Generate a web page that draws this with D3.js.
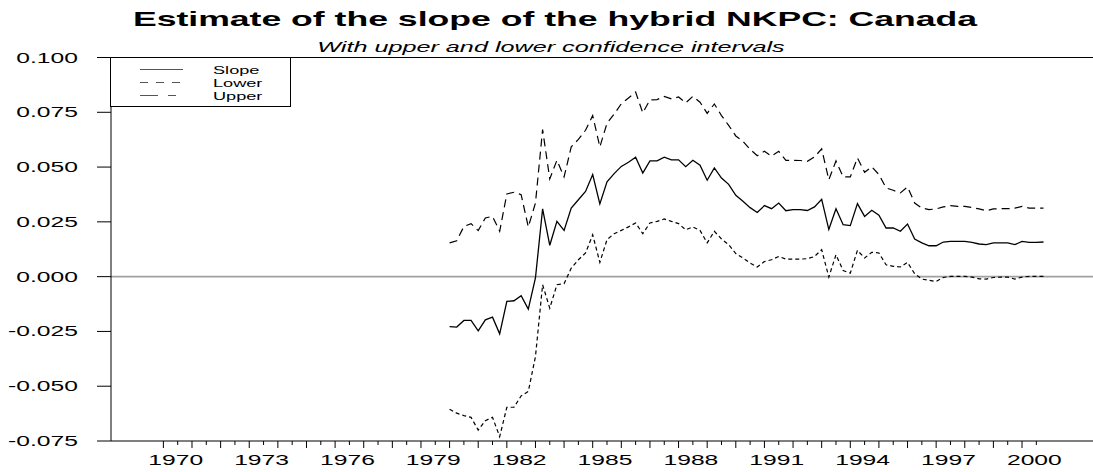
<!DOCTYPE html>
<meta charset="utf-8">
<style>
body { margin: 0; background: #fff; }
svg { display: block; font-family: "Liberation Sans", Arial, sans-serif; }
</style>
<svg width="1093" height="472"></svg>
<script src="https://cdn.jsdelivr.net/npm/d3@7"></script>
<script>

// quarterly estimates, 1980Q1 - 2000Q4
var startYear = 1980, perYear = 4;

var slope = [-0.0228, -0.0230, -0.0200, -0.0200, -0.0247, -0.0197, -0.0185, -0.0261, -0.0113, -0.0110,
  -0.0087, -0.0148, -0.0006, 0.0309, 0.0143, 0.0252, 0.0211, 0.0313, 0.0351, 0.0389,
  0.0466, 0.0332, 0.0433, 0.0470, 0.0503, 0.0522, 0.0545, 0.0473, 0.0528, 0.0528,
  0.0545, 0.0533, 0.0533, 0.0502, 0.0531, 0.0509, 0.0440, 0.0496, 0.0450, 0.0421,
  0.0371, 0.0344, 0.0315, 0.0293, 0.0324, 0.0310, 0.0336, 0.0301, 0.0306, 0.0306,
  0.0302, 0.0318, 0.0353, 0.0215, 0.0310, 0.0237, 0.0233, 0.0333, 0.0275, 0.0303,
  0.0280, 0.0222, 0.0222, 0.0207, 0.0240, 0.0172, 0.0154, 0.0141, 0.0141, 0.0158,
  0.0161, 0.0161, 0.0161, 0.0156, 0.0149, 0.0146, 0.0154, 0.0154, 0.0154, 0.0146,
  0.0161, 0.0156, 0.0156, 0.0158];

var lower = [-0.0605, -0.0623, -0.0634, -0.0642, -0.0700, -0.0657, -0.0642, -0.0730, -0.0596, -0.0596,
  -0.0544, -0.0524, -0.0365, -0.0037, -0.0144, -0.0037, -0.0032, 0.0039, 0.0077, 0.0108,
  0.0191, 0.0065, 0.0169, 0.0196, 0.0211, 0.0227, 0.0245, 0.0196, 0.0245, 0.0252,
  0.0263, 0.0252, 0.0242, 0.0214, 0.0227, 0.0211, 0.0154, 0.0207, 0.0172, 0.0146,
  0.0105, 0.0085, 0.0062, 0.0044, 0.0069, 0.0077, 0.0092, 0.0080, 0.0080, 0.0080,
  0.0082, 0.0092, 0.0123, -0.0002, 0.0100, 0.0028, 0.0016, 0.0120, 0.0085, 0.0111,
  0.0108, 0.0054, 0.0047, 0.0044, 0.0065, 0.0013, -0.0011, -0.0017, -0.0022, -0.0004,
  0.0001, 0.0001, 0.0001, -0.0002, -0.0010, -0.0011, -0.0004, -0.0002, -0.0002, -0.0011,
  -0.0002, 0.0001, 0.0001, 0.0001];

var upper = [0.0154, 0.0164, 0.0229, 0.0242, 0.0210, 0.0268, 0.0275, 0.0207, 0.0377, 0.0385,
  0.0374, 0.0227, 0.0336, 0.0671, 0.0446, 0.0531, 0.0455, 0.0592, 0.0626, 0.0668,
  0.0735, 0.0592, 0.0700, 0.0742, 0.0789, 0.0815, 0.0842, 0.0747, 0.0806, 0.0808,
  0.0822, 0.0811, 0.0820, 0.0793, 0.0823, 0.0796, 0.0745, 0.0788, 0.0735, 0.0690,
  0.0642, 0.0618, 0.0581, 0.0552, 0.0572, 0.0550, 0.0572, 0.0531, 0.0531, 0.0530,
  0.0526, 0.0546, 0.0583, 0.0442, 0.0528, 0.0455, 0.0455, 0.0542, 0.0476, 0.0501,
  0.0466, 0.0405, 0.0394, 0.0382, 0.0409, 0.0336, 0.0313, 0.0306, 0.0309, 0.0318,
  0.0324, 0.0321, 0.0321, 0.0316, 0.0309, 0.0301, 0.0309, 0.0310, 0.0310, 0.0313,
  0.0321, 0.0313, 0.0313, 0.0313];

var yearLabels = [1970, 1973, 1976, 1979, 1982, 1985, 1988, 1991, 1994, 1997, 2000];
var yTicks = [0.100, 0.075, 0.050, 0.025, 0.000, -0.025, -0.050, -0.075];
var seriesNames = ["Slope", "Lower", "Upper"];

var svg = d3.select("svg");

// the original graph was stretched sideways, so the text is too
var sx = 1.7;

var x = d3.scaleLinear().domain([1968.17, 2002.48]).range([111, 1093]),
    y = d3.scaleLinear().domain([-0.075, 0.1]).range([441, 57.5]);

var dash = { Slope: null, Lower: "4,3", Upper: "8,5" };

function label(g, px, py, str, size, anchor, stretch) {
  return g.append("text")
      .attr("transform", "translate(" + px + "," + py + ") scale(" + stretch + ",1)")
      .attr("text-anchor", anchor)
      .style("font-size", size + "px")
      .text(str);
}

// titles
label(svg, 555, 26, "Estimate of the slope of the hybrid NKPC: Canada", 20, "middle", 1.78)
    .style("font-weight", "bold");
label(svg, 551, 52, "With upper and lower confidence intervals", 14, "middle", 1.8)
    .style("font-style", "italic");

// zero line
svg.append("line")
    .attr("x1", x.range()[0]).attr("x2", x.range()[1])
    .attr("y1", y(0)).attr("y2", y(0))
    .attr("stroke", "#a0a0a0").attr("stroke-width", 1.6);

// frame: left, top, bottom
var frame = svg.append("g").attr("stroke", "#000").attr("stroke-width", 1).attr("fill", "none");
frame.append("path")
    .attr("d", "M" + x.range()[1] + "," + y(0.1) + "H" + x.range()[0] + "V" + y(-0.075) + "H" + x.range()[1]);

// y ticks and labels
var yg = svg.append("g");
yTicks.forEach(function(v) {
  yg.append("line")
      .attr("x1", x.range()[0] - 14).attr("x2", x.range()[0])
      .attr("y1", y(v)).attr("y2", y(v))
      .attr("stroke", "#000");
  label(yg, 78, y(v) + 5, d3.format(".3f")(v).replace("−", "-"), 14.5, "end", sx);
});

// x ticks: year starts long, mid-years short
var xt = d3.range(1970, 2001, 0.5);
svg.append("g").selectAll("line")
    .data(xt)
  .enter().append("line")
    .attr("x1", function(d) { return x(d); })
    .attr("x2", function(d) { return x(d); })
    .attr("y1", y(-0.075))
    .attr("y2", function(d) { return y(-0.075) + (d % 1 === 0 ? 7 : 4); })
    .attr("stroke", "#000");

var xg = svg.append("g");
yearLabels.forEach(function(yr) {
  label(xg, x(yr + 0.5) - 2, 464.5, yr, 14.5, "middle", sx);
});

// series
var line = d3.line()
    .x(function(d, i) { return x(startYear + i / perYear); })
    .y(function(d) { return y(d); });

[["Lower", lower], ["Upper", upper], ["Slope", slope]].forEach(function(s) {
  svg.append("path")
      .datum(s[1])
      .attr("fill", "none")
      .attr("stroke", "#000")
      .attr("stroke-width", s[0] === "Slope" ? 1.3 : 1.2)
      .attr("stroke-dasharray", dash[s[0]])
      .attr("d", line);
});

// legend
var lg = svg.append("g");
lg.append("rect")
    .attr("x", 110.5).attr("y", 57.5)
    .attr("width", 180).attr("height", 49)
    .attr("fill", "#fff").attr("stroke", "#000");

var legDash = { Slope: null, Lower: "8,8", Upper: "18,10,8,10" };
seriesNames.forEach(function(n, i) {
  var ly = 69.5 + i * 13;
  lg.append("line")
      .attr("x1", 140).attr("x2", 183)
      .attr("y1", ly).attr("y2", ly)
      .attr("stroke", "#555")
      .attr("stroke-dasharray", legDash[n]);
  label(lg, 213, ly + 4, n, 11, "start", 1.65);
});

</script>
